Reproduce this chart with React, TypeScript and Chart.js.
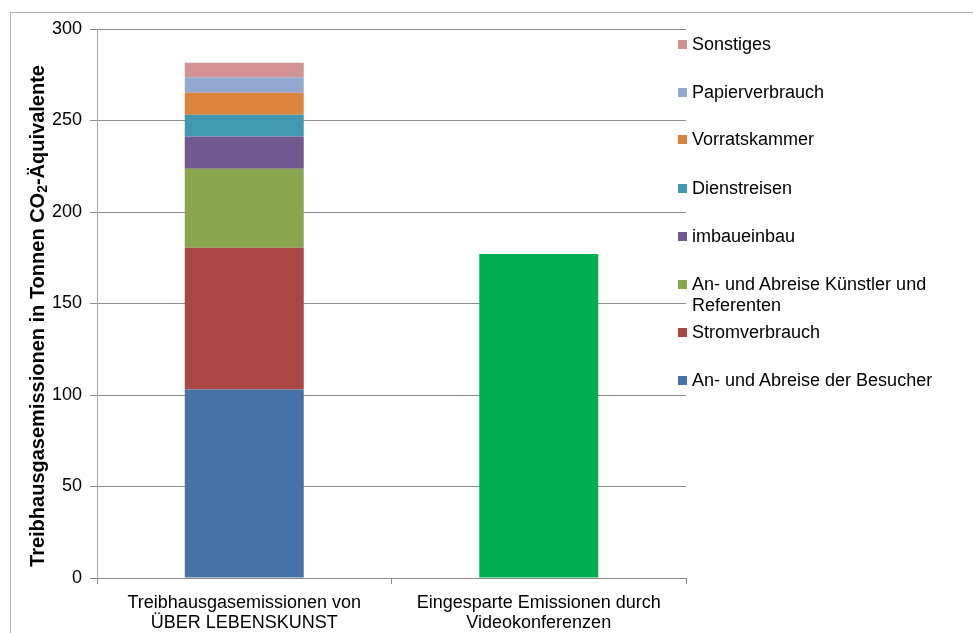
import React, { useEffect, useRef } from "react";
import { Chart, registerables } from "chart.js";

Chart.register(...registerables);

const categories: string[][] = [
  ["Treibhausgasemissionen von", "ÜBER LEBENSKUNST"],
  ["Eingesparte Emissionen durch", "Videokonferenzen"],
];

// stacked series (bottom to top) for the first bar
const seriesNames = [
  "An- und Abreise der Besucher",
  "Stromverbrauch",
  "An- und Abreise Künstler und Referenten",
  "imbaueinbau",
  "Dienstreisen",
  "Vorratskammer",
  "Papierverbrauch",
  "Sonstiges",
];
const seriesValues = [103, 77.5, 43.2, 17.5, 12, 12, 8.4, 8];
const seriesColors = [
  "#4572A7",
  "#AA4643",
  "#89A54E",
  "#71588F",
  "#4198AF",
  "#DB843D",
  "#93A9CF",
  "#D19392",
];

// second bar
const savedName = "Eingesparte Emissionen";
const savedValue = 177;
const savedColor = "#00B050";

const yTicks = [0, 50, 100, 150, 200, 250, 300];
const yTitleParts = ["Treibhausgasemissionen in Tonnen CO", "2", "-Äquivalente"];

// legend: label lines (top to bottom as shown)
const legendOrder = [7, 6, 5, 4, 3, 2, 1, 0];
const legendLines: string[][] = [
  ["Sonstiges"],
  ["Papierverbrauch"],
  ["Vorratskammer"],
  ["Dienstreisen"],
  ["imbaueinbau"],
  ["An- und Abreise Künstler und", "Referenten"],
  ["Stromverbrauch"],
  ["An- und Abreise der Besucher"],
];
const legendTops = [44, 92, 139, 188, 236, 284, 332, 380];

const FONT = "'Liberation Sans', Arial, sans-serif";

const yTitlePlugin = {
  id: "yTitle",
  afterDraw(chart: any) {
    const ctx = chart.ctx;
    const big = "bold 20px " + FONT;
    const small = "bold 14px " + FONT;
    ctx.save();
    ctx.font = big;
    const w0 = ctx.measureText(yTitleParts[0]).width;
    const w2 = ctx.measureText(yTitleParts[2]).width;
    ctx.font = small;
    const w1 = ctx.measureText(yTitleParts[1]).width;
    const total = w0 + w1 + w2;
    ctx.translate(38, 316);
    ctx.rotate(-Math.PI / 2);
    ctx.fillStyle = "#000";
    ctx.textBaseline = "middle";
    ctx.textAlign = "left";
    let x = -total / 2;
    ctx.font = big;
    ctx.fillText(yTitleParts[0], x, 0);
    x += w0;
    ctx.font = small;
    ctx.fillText(yTitleParts[1], x, 5);
    x += w1;
    ctx.font = big;
    ctx.fillText(yTitleParts[2], x, 0);
    ctx.restore();
  },
};

export default function App() {
  const ref = useRef<HTMLCanvasElement | null>(null);

  useEffect(() => {
    if (!ref.current) return;
    const datasets: any[] = seriesNames.map((name, i) => ({
      label: name,
      data: [seriesValues[i], null],
      backgroundColor: seriesColors[i],
      borderWidth: 0,
      stack: "s",
    }));
    datasets.push({
      label: savedName,
      data: [null, savedValue],
      backgroundColor: savedColor,
      borderWidth: 0,
      stack: "s",
    });

    const chart = new Chart(ref.current, {
      type: "bar",
      data: { labels: categories, datasets },
      plugins: [yTitlePlugin],
      options: {
        animation: false,
        responsive: false,
        maintainAspectRatio: false,
        layout: { padding: { left: 0, top: 29, right: 287, bottom: 0 } },
        plugins: {
          legend: { display: false },
          tooltip: { enabled: false },
        },
        datasets: {
          bar: { categoryPercentage: 1, barPercentage: 0.404 },
        },
        scales: {
          x: {
            stacked: true,
            offset: true,
            grid: {
              offset: true,
              drawOnChartArea: false,
              drawTicks: true,
              tickLength: 6,
              color: "#8c8c8c",
            },
            border: { color: "#8c8c8c", width: 1 },
            ticks: {
              color: "#000",
              font: { family: FONT, size: 18, lineHeight: 1.1 },
              padding: 9,
              maxRotation: 0,
              autoSkip: false,
            },
            afterFit: (s: any) => {
              s.height = 55;
            },
          },
          y: {
            stacked: true,
            min: 0,
            max: 300,
            afterBuildTicks: (s: any) => {
              s.ticks = yTicks.map((v) => ({ value: v }));
            },
            grid: {
              color: "#8c8c8c",
              tickLength: 7,
              drawTicks: true,
            },
            border: { color: "#a6a6a6", width: 1 },
            ticks: {
              color: "#000",
              font: { family: FONT, size: 18 },
              padding: 8,
            },
            afterFit: (s: any) => {
              s.width = 97;
            },
          },
        },
      },
    });
    return () => chart.destroy();
  }, []);

  return (
    <div
      style={{
        position: "absolute",
        left: 0,
        top: 0,
        width: 973,
        height: 633,
        overflow: "hidden",
        background: "#fff",
        fontFamily: FONT,
      }}
    >
      <div
        style={{
          position: "absolute",
          left: 10,
          top: 12,
          width: 1000,
          height: 700,
          borderLeft: "1px solid #b4b4b4",
          borderTop: "1px solid #b4b4b4",
        }}
      />
      <canvas
        ref={ref}
        width={973}
        height={633}
        style={{ position: "absolute", left: 0, top: 0, width: 973, height: 633 }}
      />
      {legendOrder.map((si, k) => (
        <div key={k}>
          <div
            style={{
              position: "absolute",
              left: 678,
              top: legendTops[k] - 4,
              width: 9,
              height: 9,
              background: seriesColors[si],
            }}
          />
          {legendLines[k].map((line, j) => (
            <div
              key={j}
              style={{
                position: "absolute",
                left: 692,
                top: legendTops[k] - 11 + j * 21,
                fontSize: 18,
                lineHeight: "22px",
                color: "#000",
                whiteSpace: "nowrap",
              }}
            >
              {line}
            </div>
          ))}
        </div>
      ))}
    </div>
  );
}
